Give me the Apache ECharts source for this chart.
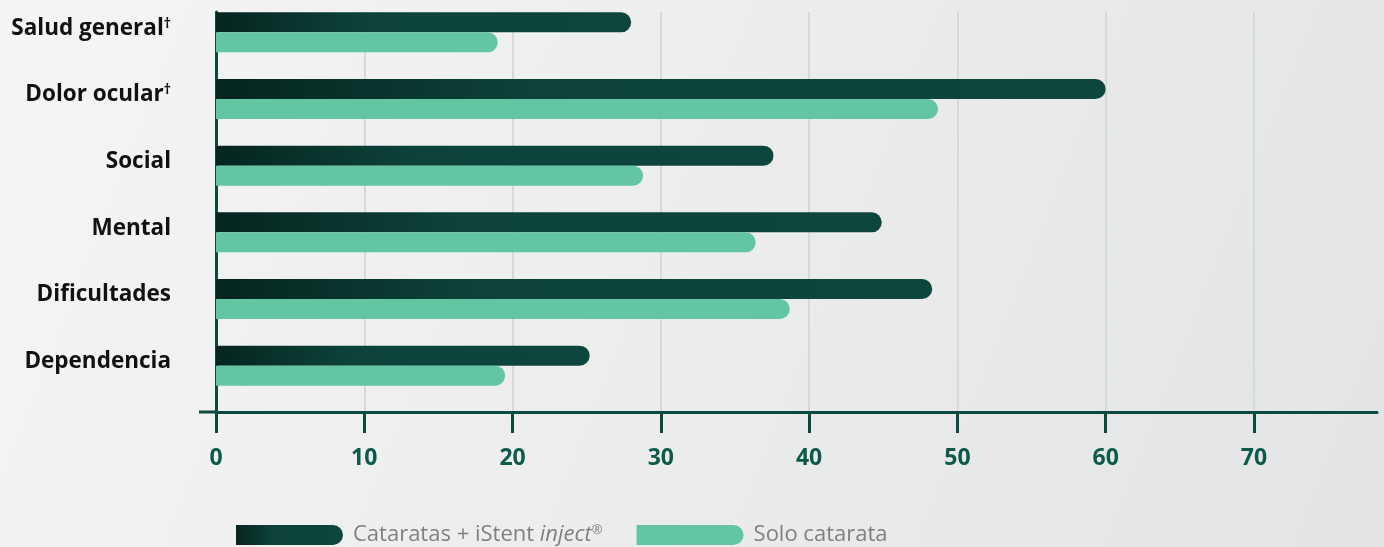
<!DOCTYPE html>
<html>
<head>
<meta charset="utf-8">
<script src="https://cdn.jsdelivr.net/npm/echarts@6/dist/echarts.min.js"></script>
<style>
  html, body { margin: 0; padding: 0; }
  #chart { width: 1384px; height: 547px; }
</style>
</head>
<body>
<div id="chart"></div>
<script>
// categories top to bottom
const categories = ['Salud general', 'Dolor ocular', 'Social', 'Mental', 'Dificultades', 'Dependencia'];
const dagger = [true, true, false, false, false, false];
const istentValues = [28.0, 60.0, 37.6, 44.9, 48.3, 25.2];
const soloValues = [19.0, 48.7, 28.8, 36.4, 38.7, 19.5];
const tickValues = [0, 10, 20, 30, 40, 50, 60, 70];
const spacer = [0, 0, 0, 0, 0, 0];

const font = 'Open Sans';
const darkGreen = '#0b4a3f';
const darkGrad = new echarts.graphic.LinearGradient(0, 0, 1, 0, [
  { offset: 0, color: '#05251f' },
  { offset: 0.35, color: '#0c4239' },
  { offset: 1, color: '#0d463d' }
]);
const lightGreen = '#64c5a3';

const chart = echarts.init(document.getElementById('chart'));
chart.setOption({
  backgroundColor: {
    type: 'linear', x: 0, y: 0, x2: 1, y2: 1,
    colorStops: [
      { offset: 0, color: '#f5f5f5' },
      { offset: 1, color: '#e3e4e5' }
    ]
  },
  animation: false,
  grid: { left: 216, right: 7, top: 12, height: 400 },
  legend: {
    data: ['Cataratas + iStent inject®', 'Solo catarata'],
    left: 236,
    top: 524,
    padding: 0,
    itemWidth: 107,
    itemHeight: 20,
    itemGap: 34,
    icon: 'path://M0,0 H97 A10,10 0 0 1 97,20 H0 Z',
    formatter: function (name) {
      if (name.indexOf('inject') >= 0) return 'Cataratas + iStent {i|inject}{s|®}';
      return name;
    },
    textStyle: {
      fontFamily: font,
      fontSize: 22,
      color: '#808080',
      padding: [0, 0, 0, 5],
      rich: {
        i: { fontFamily: font, fontSize: 22, fontStyle: 'italic', color: '#808080' },
        s: { fontFamily: font, fontSize: 13, color: '#808080', verticalAlign: 'top' }
      }
    }
  },
  graphic: [{
    type: 'line',
    shape: { x1: 199, y1: 412, x2: 216, y2: 412 },
    style: { stroke: darkGreen, lineWidth: 3 }
  }],
  xAxis: {
    type: 'value',
    min: 0,
    max: 78.3,
    interval: 10,
    axisLine: { show: true, lineStyle: { color: darkGreen, width: 3 } },
    axisTick: {
      show: true, length: 21, inside: false, customValues: tickValues,
      lineStyle: { color: darkGreen, width: 3 }
    },
    axisLabel: {
      customValues: tickValues,
      margin: 35,
      fontFamily: font,
      fontWeight: 'bold',
      fontSize: 23,
      color: '#0d5a4b'
    },
    splitLine: { show: true, lineStyle: { color: '#d4d9d9', width: 2 } }
  },
  yAxis: {
    type: 'category',
    inverse: true,
    data: categories,
    axisLine: { show: true, lineStyle: { color: darkGreen, width: 3 } },
    axisTick: { show: false },
    axisLabel: {
      margin: 45,
      padding: [0, 0, 34, 0],
      fontFamily: font,
      fontWeight: 'bold',
      fontSize: 22.5,
      color: '#111',
      formatter: function (v, i) {
        return dagger[i] ? v + '{d|†}' : v;
      },
      rich: {
        d: { fontFamily: font, fontWeight: 'bold', fontSize: 14, color: '#111', verticalAlign: 'top' }
      }
    }
  },
  series: [
    {
      name: 'Cataratas + iStent inject®',
      type: 'bar',
      data: istentValues,
      barWidth: 20,
      barGap: 0,
      itemStyle: { color: darkGrad, borderRadius: [0, 10, 10, 0] }
    },
    {
      name: 'Solo catarata',
      type: 'bar',
      data: soloValues,
      barWidth: 20,
      barGap: 0,
      itemStyle: { color: lightGreen, borderRadius: [0, 10, 10, 0] }
    },
    {
      name: 'spacer',
      type: 'bar',
      data: spacer,
      barWidth: 26,
      barGap: 0,
      silent: true,
      itemStyle: { color: 'rgba(0,0,0,0)' }
    }
  ]
});
</script>
</body>
</html>
